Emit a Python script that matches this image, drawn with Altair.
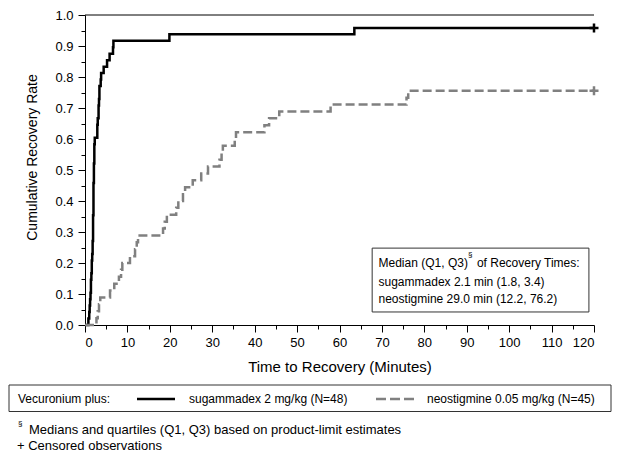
import altair as alt
import pandas as pd

# ---- data ----
sug_t = [0, 0.8, 1.0, 1.1, 1.2, 1.3, 1.4, 1.5, 1.6, 1.7, 1.8, 1.9, 2.0, 2.1, 2.2, 2.3,
         2.9, 3.0, 3.2, 3.3, 3.4, 3.7, 3.8, 4.4, 5.2, 5.8, 6.6, 6.7, 19.9, 63.5, 120]
sug_r = [0, 0.021, 0.042, 0.063, 0.083, 0.104, 0.146, 0.167, 0.208, 0.229, 0.271, 0.354,
         0.458, 0.521, 0.583, 0.604, 0.646, 0.667, 0.708, 0.729, 0.771, 0.792, 0.813,
         0.833, 0.854, 0.875, 0.896, 0.917, 0.938, 0.958, 0.958]

neo_t = [0, 2.7, 3.0, 3.3, 3.6, 5.9, 6.9, 8.0, 8.5, 8.8, 10.6, 11.8, 12.2, 12.5, 18.4,
         18.8, 19.3, 21.5, 22.0, 23.1, 23.6, 25.4, 27.4, 29.0, 31.7, 32.2, 32.5, 35.3,
         35.6, 42.3, 43.4, 45.8, 57.9, 75.8, 76.2, 120]
neo_r = [0, 0.022, 0.044, 0.067, 0.089, 0.111, 0.133, 0.156, 0.178, 0.2, 0.222, 0.244,
         0.267, 0.289, 0.311, 0.333, 0.356, 0.378, 0.4, 0.422, 0.444, 0.467, 0.489,
         0.511, 0.533, 0.556, 0.578, 0.6, 0.622, 0.644, 0.667, 0.689, 0.711, 0.733,
         0.756, 0.756]

groups = ["sugammadex", "neostigmine"]
group_colors = ["#000000", "#808080"]

x_ticks = [0, 5, 10, 15, 20, 25, 30, 35, 40, 45, 50, 55, 60, 65, 70, 75, 80, 85, 90,
           95, 100, 105, 110, 115, 120]
y_ticks = [0.0, 0.05, 0.1, 0.15, 0.2, 0.25, 0.3, 0.35, 0.4, 0.45, 0.5, 0.55, 0.6, 0.65,
           0.7, 0.75, 0.8, 0.85, 0.9, 0.95, 1.0]

censor_t = [120, 120]
censor_r = [0.958, 0.756]

box_x = [67.7, 118.8]
box_y = [0.042, 0.248]
note_lines = ["Median (Q1, Q3)", "sugammadex 2.1 min (1.8, 3.4)", "neostigmine 29.0 min (12.2, 76.2)"]

legend_title = "Vecuronium plus:"
legend_labels = ["sugammadex 2 mg/kg (N=48)", "neostigmine 0.05 mg/kg (N=45)"]
footnotes = ["Medians and quartiles (Q1, Q3) based on product-limit estimates",
             "+ Censored observations"]

FONT = "Liberation Sans"

curves = pd.DataFrame({
    "t": sug_t + neo_t,
    "r": sug_r + neo_r,
    "g": [groups[0]] * len(sug_t) + [groups[1]] * len(neo_t),
})
censor = pd.DataFrame({"t": censor_t, "r": censor_r, "g": groups})

xs = alt.Scale(domain=[0, 120], nice=False, zero=False)
ys = alt.Scale(domain=[0, 1], nice=False)

xaxis = alt.Axis(
    values=x_ticks, title="Time to Recovery (Minutes)", grid=False,
    labelExpr="datum.value % 10 === 0 ? datum.label : ''", labelOverlap=False,
    tickSize={"condition": {"test": "datum.value % 10 === 0", "value": 7}, "value": 4},
    labelPadding=4, titlePadding=10, labelFontSize=13, titleFontSize=15,
)
yaxis = alt.Axis(
    values=y_ticks, title="Cumulative Recovery Rate", grid=False, format=".1f",
    labelExpr="round(datum.value * 100) % 10 === 0 ? datum.label : ''", labelOverlap=False,
    tickSize={"condition": {"test": "round(datum.value * 100) % 10 === 0", "value": 7}, "value": 4},
    labelPadding=5, labelFontSize=13, titleFontSize=14,
    titleX=-53, titleY=142, titleBaseline="middle",
)


def X(f):
    return alt.X(f, type="quantitative", scale=xs, axis=xaxis)


def Y(f):
    return alt.Y(f, type="quantitative", scale=ys, axis=yaxis)


color = alt.Color("g:N", scale=alt.Scale(domain=groups, range=group_colors), legend=None)
dash = alt.StrokeDash("g:N", scale=alt.Scale(domain=groups, range=[[1, 0], [9, 4]]), legend=None)

lines = alt.Chart(curves).mark_line(interpolate="step-after", strokeWidth=2.5).encode(
    x=X("t"), y=Y("r"), color=color, strokeDash=dash, detail="g:N"
)

marks = alt.Chart(censor).mark_point(
    shape="M-1,0L1,0M0,-1L0,1", size=81, strokeWidth=2.5, filled=False, opacity=1
).encode(x=X("t"), y=Y("r"), color=color)

top = alt.Chart(pd.DataFrame({"x": [0], "x2": [120], "y": [1.0]})).mark_rule(
    color="black", strokeWidth=1
).encode(x=X("x"), x2="x2", y=Y("y"))

box = alt.Chart(pd.DataFrame({"x": [box_x[0]], "x2": [box_x[1]], "y": [box_y[0]], "y2": [box_y[1]]})).mark_rect(
    fill="white", stroke="#333333", strokeWidth=1
).encode(x=X("x"), x2="x2", y=Y("y"), y2="y2")

note_df = pd.DataFrame({"x": [69.2, 69.2, 69.2], "y": [0.199, 0.140, 0.084], "text": note_lines})
note = alt.Chart(note_df).mark_text(
    align="left", baseline="middle", fontSize=12, font=FONT, color="black"
).encode(x=X("x"), y=Y("y"), text="text:N")

sect = alt.Chart(pd.DataFrame({"x": [90.3], "y": [0.227], "text": ["§"]})).mark_text(
    align="left", baseline="middle", fontSize=8, font=FONT, color="black"
).encode(x=X("x"), y=Y("y"), text="text:N")

note_rest = alt.Chart(pd.DataFrame({"x": [92.4], "y": [0.199], "text": ["of Recovery Times:"]})).mark_text(
    align="left", baseline="middle", fontSize=12, font=FONT, color="black"
).encode(x=X("x"), y=Y("y"), text="text:N")

one = pd.DataFrame({"a": [0]})

leg_box = alt.Chart(one).mark_rect(fill="white", stroke="#333333", strokeWidth=1).encode(
    x=alt.value(-76), x2=alt.value(526), y=alt.value(370), y2=alt.value(396.5)
)


def ptext(txt, x, y, size=12, align="left"):
    return alt.Chart(one).mark_text(
        align=align, baseline="middle", fontSize=size, font=FONT, color="black"
    ).encode(x=alt.value(x), y=alt.value(y), text=alt.value(txt))


leg_t = ptext(legend_title, -67, 384)
leg_l1 = ptext(legend_labels[0], 104, 384)
leg_l2 = ptext(legend_labels[1], 342, 384)
leg_s1 = alt.Chart(one).mark_rule(color=group_colors[0], strokeWidth=2.5).encode(
    x=alt.value(52), x2=alt.value(90), y=alt.value(384)
)
leg_s2 = alt.Chart(one).mark_rule(color=group_colors[1], strokeWidth=2.5, strokeDash=[10, 4]).encode(
    x=alt.value(291), x2=alt.value(329), y=alt.value(384)
)

fn_s = ptext("§", -67, 409, size=8)
fn_1 = ptext(footnotes[0], -56, 415, size=13)
fn_2 = ptext(footnotes[1], -68, 431, size=13)

chart = alt.layer(
    box, top, lines, marks, note, sect, note_rest,
    leg_box, leg_t, leg_s1, leg_l1, leg_s2, leg_l2, fn_s, fn_1, fn_2
).properties(
    width=509, height=310,
    padding={"left": 77, "top": 7, "right": 18, "bottom": 129},
    autosize=alt.AutoSizeParams(type="none"),
).configure(font=FONT).configure_view(stroke=None).configure_axis(
    domainColor="black", tickColor="black", labelColor="black", titleColor="black",
    titleFontWeight="normal", labelFont=FONT, titleFont=FONT, domainWidth=1, tickWidth=1,
)

chart.save("out.html", embed_options={"renderer": "svg", "actions": False})
